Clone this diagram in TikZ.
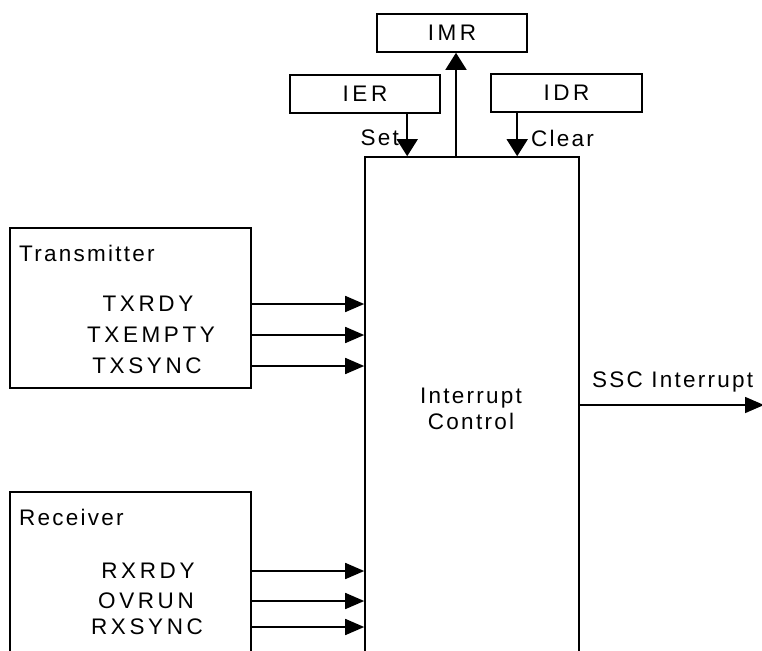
\documentclass[tikz,border=0pt]{standalone}
\usepackage{fontspec}
\setmainfont{Liberation Sans}[LetterSpace=10]
\newfontfamily\sscwidefont{Liberation Sans}[LetterSpace=16]
\usepackage{tikz}
\usetikzlibrary{arrows.meta,positioning,calc}
\tikzset{
sscbox/.style={rectangle,draw,line width=1.6pt,inner sep=0pt},
sscreg/.style={sscbox,minimum width=150pt,minimum height=38pt,font=\fontsize{22.5}{26}\sscwidefont},
sscunit/.style={sscbox,minimum width=241pt},
ssctitle/.style={anchor=west,inner sep=0pt},
sscsig/.style={inner sep=0pt,font=\fontsize{22.5}{26}\sscwidefont},
sscarr/.style={-{Triangle[length=19pt,width=16pt]},line width=1.6pt},
sscvarr/.style={-{Triangle[length=17pt,width=21pt]},line width=1.6pt},
ssclabel/.style={inner sep=0pt}
}
\begin{document}
\begin{tikzpicture}[
x=1pt,
y=-1pt,
every node/.style={font=\fontsize{22.5}{26}\selectfont}
]
\useasboundingbox (0,0) rectangle (762,650);
\clip (0,0) rectangle (762,650);
\node[sscreg] (imr) at (452,33) {IMR};
\node[sscreg] (ier) at (365,94) {IER};
\node[sscreg,minimum width=151pt] (idr) at (566.5,93) {IDR};
\node[sscbox,minimum width=214pt,minimum height=513pt] (ctrl) at (472,413.5) {};
\node[ssclabel,align=center] (ctrltxt) at (471,409) {Interrupt\\[0pt]Control};
\node[sscunit,minimum height=160pt] (tx) at (130.5,308) {};
\node[ssctitle] (txname) at (19,253) {Transmitter};
\node[sscsig] (txrdy) at (148,304) {TXRDY};
\node[sscsig] (txempty) at (151,335) {TXEMPTY};
\node[sscsig] (txsync) at (147,366) {TXSYNC};
\node[sscunit,minimum height=178pt] (rx) at (130.5,581) {};
\node[ssctitle] (rxname) at (19,517) {Receiver};
\node[sscsig] (rxrdy) at (148,571) {RXRDY};
\node[sscsig] (ovrun) at (146,601) {OVRUN};
\node[sscsig] (rxsync) at (147,627) {RXSYNC};
\coordinate (setin) at ([xshift=43]ctrl.north west);
\coordinate (clrin) at ([xshift=27]idr.south west);
\coordinate (irqout) at (764,405);
\node[ssclabel,anchor=east] (setlbl) at (399,138) {Set};
\node[ssclabel,anchor=west] (clrlbl) at (531,138) {Clear};
\node[ssclabel,anchor=west] (irqlbl) at (592,382) {SSC Interrupt};
\draw[sscvarr] (ier.south -| setin)--(setin);
\draw[sscvarr] (clrin)--(clrin |- ctrl.north);
\draw[sscvarr] ([xshift=-16]ctrl.north)--([xshift=-16]ctrl.north |- imr.south);
\foreach \sig in {txrdy,txempty,txsync}
  \draw[sscarr] (tx.east |- \sig)--(ctrl.west |- \sig);
\foreach \sig in {rxrdy,ovrun,rxsync}
  \draw[sscarr] (rx.east |- \sig)--(ctrl.west |- \sig);
\draw[sscarr] (ctrl.east |- irqout)--(irqout);
\end{tikzpicture}
\end{document}
